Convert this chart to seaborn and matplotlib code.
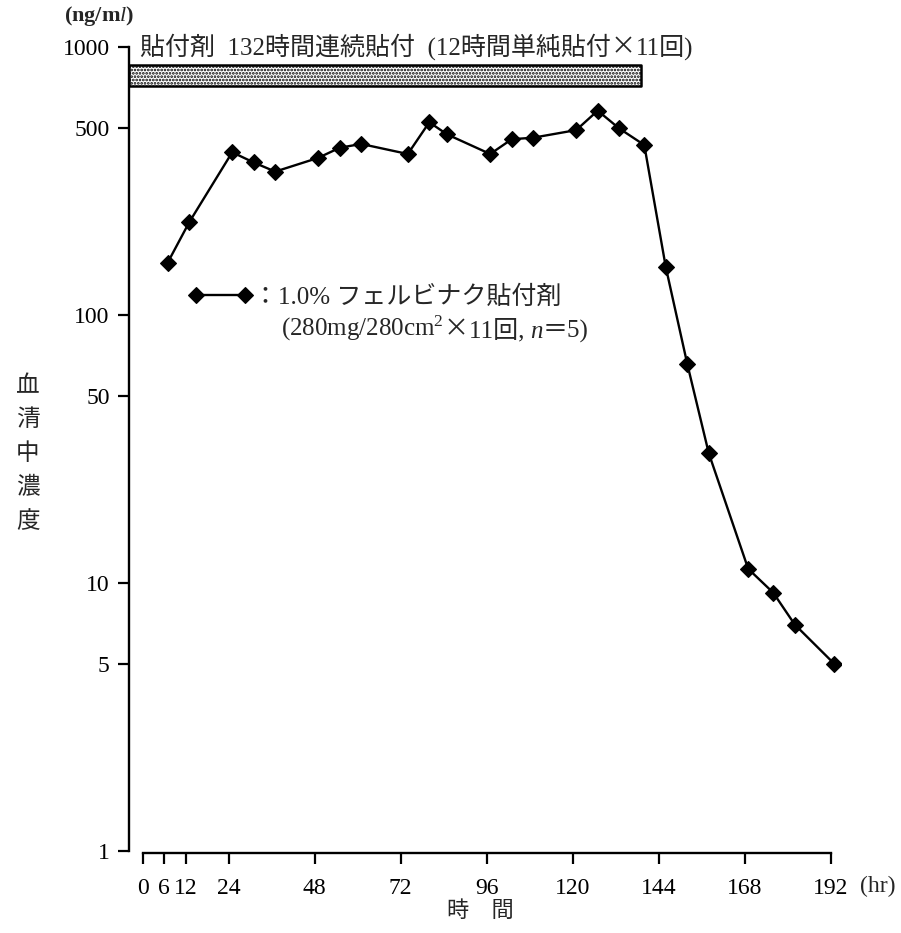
import matplotlib
matplotlib.use("Agg")
import matplotlib.pyplot as plt
import seaborn as sns
import pandas as pd

# 血清中濃度 (ng/ml) vs 時間 (hr)
hours = [7, 13, 25, 31, 37, 49, 55, 61, 74, 80, 85, 97, 103, 109, 121, 127,
         133, 140, 146, 152, 158, 169, 176, 182, 193]
conc = [157, 222, 405, 371, 343, 386, 421, 435, 399, 524, 472, 399, 453, 459,
        490, 579, 497, 431, 151, 65.7, 30.5, 11.3, 9.2, 7.0, 5.0]

x_ticks = [0, 6, 12, 24, 48, 72, 96, 120, 144, 168, 192]
y_ticks = [1, 5, 10, 50, 100, 500, 1000]

# dotted bar showing the application period (hr end, ng/ml bottom/top)
bar_end = 139
bar_low, bar_high = 716, 857

legend_text = "：1.0% フェルビナク貼付剤"

sns.set_style("ticks")
SERIF_JP = ["Liberation Serif", "Noto Sans CJK JP"]
plt.rcParams["font.family"] = SERIF_JP
plt.rcParams["mathtext.fontset"] = "custom"
plt.rcParams["mathtext.rm"] = "Liberation Serif"
plt.rcParams["mathtext.it"] = "Liberation Serif:italic"
plt.rcParams["hatch.linewidth"] = 1.3

CJK = ["Noto Sans CJK JP"]


def chain_text(ax, first, pieces, size):
    # pieces: list of (text, extra kwargs); each one placed right after the previous
    prev = first
    for s, kw in pieces:
        prev = ax.annotate(s, xy=(1, 0), xycoords=prev, ha="left",
                           va="bottom", fontsize=size, **kw)
    return prev


df = pd.DataFrame({"hr": hours, "conc": conc})

fig = plt.figure(figsize=(9.01, 9.33), dpi=100)
ax = fig.add_axes([0.1432, 0.0857, 0.7906, 0.8866])

sns.lineplot(data=df, x="hr", y="conc", ax=ax, color="black", linewidth=1.7,
             marker="D", markersize=8.5, markeredgewidth=0.8,
             markeredgecolor="black", markerfacecolor="black")

ax.set_yscale("log")
ax.set_xlim(-3.8, 195)
ax.set_ylim(0.983, 1200)

ax.fill_between([-3.8, bar_end], bar_low, bar_high, facecolor="white",
                edgecolor="black", hatch=".....", linewidth=1.8, zorder=3)

ax.set_xticks(x_ticks)
ax.set_xticklabels([str(t) for t in x_ticks])
ax.set_yticks(y_ticks)
ax.set_yticklabels([str(v) for v in y_ticks])
ax.minorticks_off()
ax.tick_params(axis="both", direction="out", length=8, width=1.6,
               labelsize=17, color="black", labelcolor="black")
ax.tick_params(axis="x", pad=10)
ax.tick_params(axis="y", pad=6)

for side in ["top", "right"]:
    ax.spines[side].set_visible(False)
ax.spines["left"].set_bounds(1, 1000)
ax.spines["bottom"].set_bounds(0, 192)
for side in ["left", "bottom"]:
    ax.spines[side].set_linewidth(1.7)
    ax.spines[side].set_color("black")

ax.set_xlabel("")
ax.set_ylabel("")

# header over the bar
t0 = ax.text(-0.8, 1000, "貼付剤  132時間連続貼付  (12時間単純貼付",
             ha="left", va="center", fontsize=18)
chain_text(ax, t0, [("×", {"family": CJK}), ("11回)", {})], 18)

handle = ax.get_lines()[0]
ax.legend([handle], [legend_text], loc="center left", frameon=False,
          bbox_to_anchor=(188 / 901, 1 - 297 / 933),
          bbox_transform=fig.transFigure, borderpad=0, borderaxespad=0,
          numpoints=2, handlelength=2.56, handletextpad=0.05, fontsize=18)

# second legend line, with italic n
t1 = fig.text(281 / 901, 1 - 328 / 933, "(280mg/280cm$^2$", ha="left",
              va="center", fontsize=18)
chain_text(ax, t1, [("×", {"family": CJK}), ("11回, ", {}),
                    ("n", {"style": "italic"}), ("＝5)", {})], 18)

fig.text(99 / 901, 1 - 16 / 933, "(ng/m$l$)", ha="center", va="center",
         fontsize=16, fontweight="bold")
fig.text(878 / 901, 1 - 886 / 933, "(hr)", ha="center", va="center",
         fontsize=17)
fig.text(480 / 901, 1 - 912 / 933, "時　間", ha="center", va="center",
         fontsize=16)
fig.text(28 / 901, 1 - 455 / 933, "\n".join("血清中濃度"), ha="center",
         va="center", fontsize=17, linespacing=1.72)

fig.savefig("out.png", dpi=100, facecolor="white")
